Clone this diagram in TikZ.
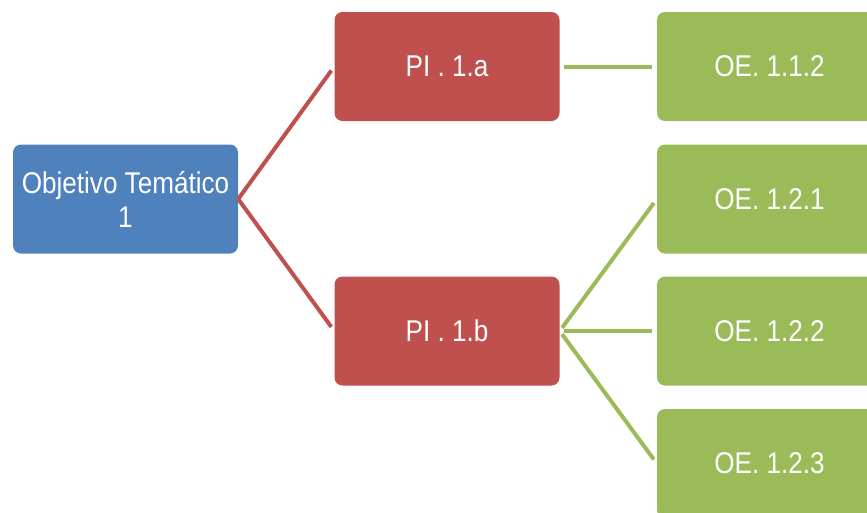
\documentclass[tikz,border=0pt]{standalone}
\usepackage{fontspec}
\setmainfont{Liberation Sans}[FakeStretch=0.87]
\definecolor{otblue}{HTML}{4F81BD}
\definecolor{pired}{HTML}{C0504D}
\definecolor{oegreen}{HTML}{9BBB59}
\tikzset{
    caja/.style={rounded corners=8pt, minimum width=225pt, minimum height=109pt,
        inner sep=0pt, text=white, align=center,
        font=\fontsize{30}{34}\selectfont},
    ramared/.style={draw=pired, line width=4pt, shorten >=5pt},
    ramaverde/.style={draw=oegreen, line width=4pt, shorten <=4pt, shorten >=5pt}
}
\begin{document}
\begin{tikzpicture}[x=1pt, y=-1pt]
    \useasboundingbox (0,0) rectangle (867,512);
    \clip (0,0) rectangle (867,512);
    % nodos
    \node[caja, fill=otblue] (ot) at (125.5,199) {Objetivo Temático\\1};
    \node[caja, fill=pired] (pia) at (447,66.5) {PI . 1.a};
    \node[caja, fill=pired] (pib) at (447,331) {PI . 1.b};
    \node[caja, fill=oegreen] (oe112) at (769.5,66.5) {OE. 1.1.2};
    \node[caja, fill=oegreen] (oe121) at (769.5,199) {OE. 1.2.1};
    \node[caja, fill=oegreen] (oe122) at (769.5,331) {OE. 1.2.2};
    \node[caja, fill=oegreen] (oe123) at (769.5,463.5) {OE. 1.2.3};
    % ramas
    \draw[ramared] (ot.east) -- (pia.west);
    \draw[ramared] (ot.east) -- (pib.west);
    \draw[ramaverde] (pia.east) -- (oe112.west);
    \foreach \n in {oe121,oe122,oe123}
        \draw[ramaverde] (pib.east) -- (\n.west);
\end{tikzpicture}
\end{document}
